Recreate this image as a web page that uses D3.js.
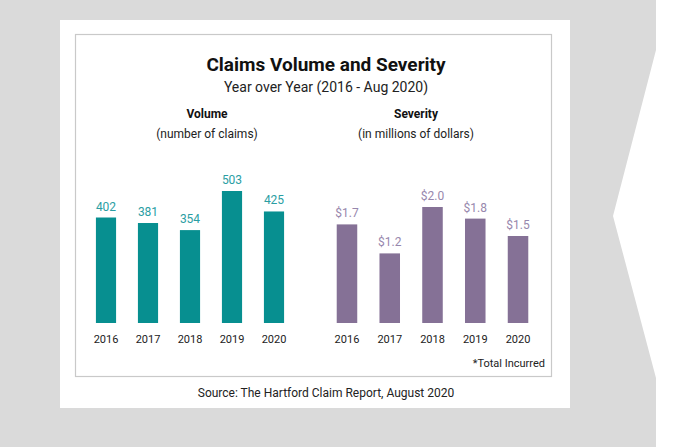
<!DOCTYPE html>
<html>
<head>
<meta charset="utf-8">
<script src="https://cdn.jsdelivr.net/npm/d3@7"></script>
<style>
  body { margin: 0; background: #fff; }
  text { font-family: Roboto, "Noto Sans", sans-serif; }
</style>
</head>
<body>
<div id="chart"></div>
<script>
var svgWidth = 677;
var svgHeight = 447;

// Data
var years = ["2016", "2017", "2018", "2019", "2020"];
var volume = [402, 381, 354, 503, 425];
var severity = [1.7, 1.2, 2.0, 1.8, 1.5];

var svg = d3.select("#chart")
  .append("svg")
  .attr("width", svgWidth)
  .attr("height", svgHeight);

// grey banner with the notch on the right
svg.append("path")
  .attr("d", "M0,0 H656 V50 L613,216 L656,378 V447 H0 Z")
  .attr("fill", "#dadada");

// white card + inner frame
svg.append("rect")
  .attr("x", 60).attr("y", 20)
  .attr("width", 510).attr("height", 388)
  .attr("fill", "#fff");

svg.append("rect")
  .attr("x", 75.5).attr("y", 34.5)
  .attr("width", 476).attr("height", 342)
  .attr("fill", "none")
  .attr("stroke", "#c9c9c9")
  .attr("stroke-width", 1.2);

// titles
svg.append("text")
  .attr("x", 326).attr("y", 71)
  .attr("text-anchor", "middle")
  .attr("font-size", "19px")
  .attr("font-weight", "bold")
  .attr("fill", "#111")
  .text("Claims Volume and Severity");

svg.append("text")
  .attr("x", 326).attr("y", 92)
  .attr("text-anchor", "middle")
  .attr("font-size", "14px")
  .attr("fill", "#222")
  .text("Year over Year (2016 - Aug 2020)");

var baseY = 323;

function drawPanel(opts) {
  var g = svg.append("g");

  // panel heading
  g.append("text")
    .attr("x", opts.labelX).attr("y", 118)
    .attr("text-anchor", "middle")
    .attr("font-size", "12px")
    .attr("font-weight", "bold")
    .attr("fill", "#111")
    .text(opts.title);

  g.append("text")
    .attr("x", opts.labelX).attr("y", 138)
    .attr("text-anchor", "middle")
    .attr("font-size", "12px")
    .attr("fill", "#222")
    .text(opts.sub);

  var x = d3.scaleBand()
    .domain(years)
    .range(opts.range)
    .paddingInner(0.52)
    .paddingOuter(0.26);

  var y = d3.scaleLinear()
    .domain([0, d3.max(opts.values)])
    .range([baseY, opts.top]);

  var rows = years.map((yr, i) => ({ year: yr, value: opts.values[i] }));

  g.selectAll("rect.bar")
    .data(rows)
    .enter()
    .append("rect")
    .attr("class", "bar")
    .attr("x", d => x(d.year))
    .attr("y", d => y(d.value))
    .attr("width", x.bandwidth())
    .attr("height", d => baseY - y(d.value))
    .attr("fill", opts.color);

  g.selectAll("text.val")
    .data(rows)
    .enter()
    .append("text")
    .attr("class", "val")
    .attr("x", d => x(d.year) + x.bandwidth() / 2)
    .attr("y", d => y(d.value) - 7)
    .attr("text-anchor", "middle")
    .attr("font-size", "12px")
    .attr("fill", opts.labelColor)
    .text(d => opts.fmt(d.value));

  var axis = g.append("g")
    .attr("transform", `translate(0, ${baseY})`)
    .call(d3.axisBottom(x).tickSize(0).tickPadding(12));
  axis.select(".domain").remove();
  axis.selectAll("text")
    .attr("font-family", "Roboto, sans-serif")
    .attr("font-size", "11px")
    .attr("fill", "#222");
}

drawPanel({
  title: "Volume",
  sub: "(number of claims)",
  labelX: 207,
  values: volume,
  range: [85, 295],
  top: 191,
  color: "#078f90",
  labelColor: "#2a9ea3",
  fmt: d => d
});

drawPanel({
  title: "Severity",
  sub: "(in millions of dollars)",
  labelX: 416,
  values: severity,
  range: [325.6, 539.4],
  top: 207,
  color: "#857196",
  labelColor: "#9787ad",
  fmt: d => "$" + d.toFixed(1)
});

// footnotes
svg.append("text")
  .attr("x", 545).attr("y", 367)
  .attr("text-anchor", "end")
  .attr("font-size", "11px")
  .attr("fill", "#222")
  .text("*Total Incurred");

svg.append("text")
  .attr("x", 326).attr("y", 397)
  .attr("text-anchor", "middle")
  .attr("font-size", "12px")
  .attr("fill", "#222")
  .text("Source: The Hartford Claim Report, August 2020");
</script>
</body>
</html>
